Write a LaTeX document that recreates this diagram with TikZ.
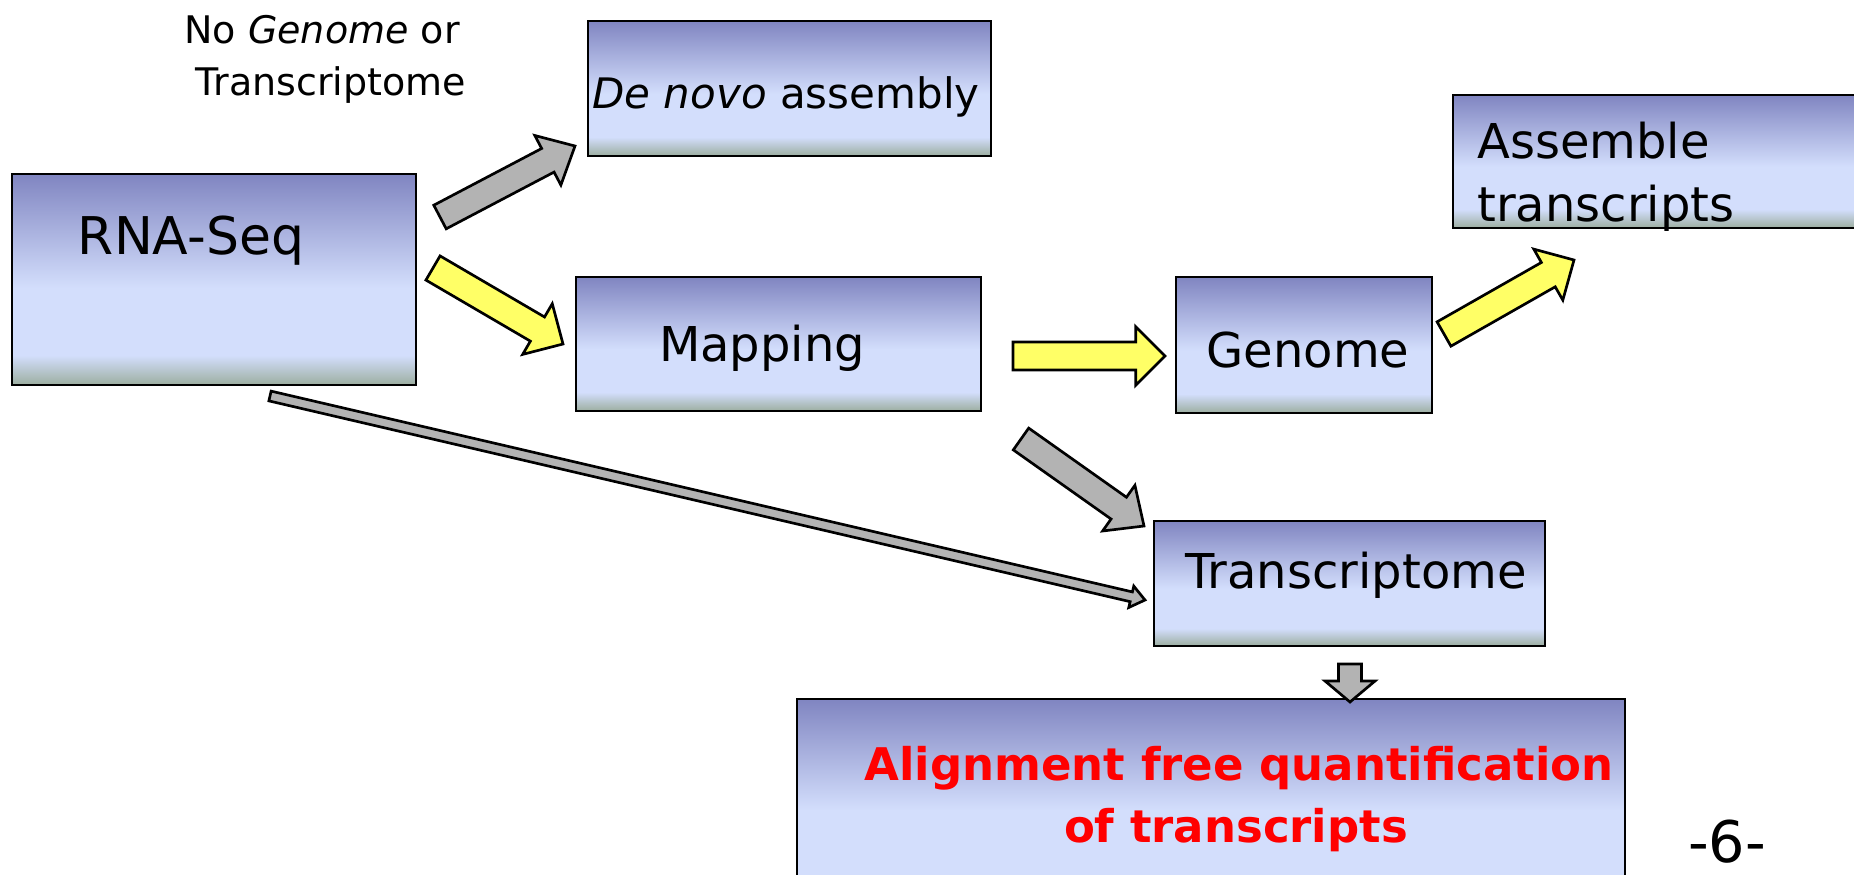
\documentclass[tikz,border=0pt]{standalone}
\usepackage{fontspec}
\setmainfont{DejaVu Sans}
\usetikzlibrary{calc}

\definecolor{boxtop}{RGB}{128,133,193}
\definecolor{boxmid}{RGB}{211,222,252}
\definecolor{boxbot}{RGB}{156,174,160}
\definecolor{arrowgray}{RGB}{179,179,179}
\definecolor{arrowyellow}{RGB}{255,255,102}

\pgfdeclareverticalshading{stageshade}{100bp}{color(0bp)=(boxbot); color(25bp)=(boxbot); color(32bp)=(boxmid); color(48bp)=(boxmid); color(75bp)=(boxtop); color(100bp)=(boxtop)}

\tikzset{every picture/.style={line width=2pt}}
\tikzset{
  stagebox/.style={draw, rectangle, inner sep=0pt, shade, shading=stageshade},
  stagetext/.style={anchor=base, inner sep=0pt, font=\fontsize{36}{40}\selectfont},
  notetext/.style={anchor=base, inner sep=0pt, font=\fontsize{28.5}{32}\selectfont},
  quanttext/.style={anchor=base, inner sep=0pt, text=red, font=\bfseries\fontsize{33.75}{40}\selectfont},
  blockarrow/.style n args={3}{to path={
    let \p1=($(\tikztotarget)-(\tikztostart)$),
        \n1={atan2(\y1,\x1)}, \n2={veclen(\x1,\y1)} in
    ($(\tikztostart)+(\n1+90:#1)$)
    -- ($(\tikztostart)+(\n1:\n2-#3)+(\n1+90:#1)$)
    -- ($(\tikztostart)+(\n1:\n2-#3)+(\n1+90:#2)$)
    -- (\tikztotarget)
    -- ($(\tikztostart)+(\n1:\n2-#3)+(\n1-90:#2)$)
    -- ($(\tikztostart)+(\n1:\n2-#3)+(\n1-90:#1)$)
    -- ($(\tikztostart)+(\n1-90:#1)$)
    -- cycle}},
  grayarrow/.style={draw, fill=arrowgray, blockarrow={10pt}{21pt}{23pt}},
  yellowarrow/.style={draw, fill=arrowyellow, blockarrow={10.5pt}{22pt}{22pt}},
}

\begin{document}
\begin{tikzpicture}[x=0.75pt,y=-0.75pt]
		\useasboundingbox (0,0) rectangle (1854,875);
		\clip (0,0) rectangle (1854,875);

		% stage boxes
		\node (denovo) [stagebox, minimum width=302.25pt, minimum height=101.25pt] at (789.5,88.5) {};
		\node (rnaseq) [stagebox, minimum width=303pt, minimum height=158.25pt] at (214,279.5) {};
		\node (mapping) [stagebox, minimum width=303.75pt, minimum height=100.5pt] at (778.5,344) {};
		\node (genome) [stagebox, minimum width=192pt, minimum height=102pt] at (1304,345) {};
		\node (assemble) [stagebox, minimum width=315.75pt, minimum height=99.75pt] at (1663.5,161.5) {};
		\node (transcriptome) [stagebox, minimum width=293.25pt, minimum height=93.75pt] at (1349.5,583.5) {};
		\node (quant) [stagebox, minimum width=621pt, minimum height=154.5pt] at (1211,802) {};

		% arrow ends
		\coordinate (dn-tail) at (440,217);
		\coordinate (dn-tip) at (575,146);
		\coordinate (mp-tail) at (433,268);
		\coordinate (mp-tip) at (563,344);
		\coordinate (tr-tail) at (270,396);
		\coordinate (tr-tip) at (1145,600);
		\coordinate (gn-tail) at (1013,356);
		\coordinate (gn-tip) at (1165,356);
		\coordinate (mt-tail) at (1021,439);
		\coordinate (mt-tip) at (1144,526);
		\coordinate (as-tail) at (1444,334);
		\coordinate (as-tip) at (1574,260);
		\coordinate (qt-tail) at (1350,664);
		\coordinate (qt-tip) at (1350,702);

		% block arrows
		\draw [grayarrow] (dn-tail) to (dn-tip);
		\draw [yellowarrow] (mp-tail) to (mp-tip);
		\draw [draw, fill=arrowgray, blockarrow={3.75pt}{8.25pt}{10.5pt}] (tr-tail) to (tr-tip);
		\draw [yellowarrow] (gn-tail) to (gn-tip);
		\draw [grayarrow] (mt-tail) to (mt-tip);
		\draw [yellowarrow] (as-tail) to (as-tip);
		\draw [draw, fill=arrowgray, blockarrow={8.6pt}{18.75pt}{15.75pt}] (qt-tail) to (qt-tip);

		% Text Node
		\node [notetext] (note-a) at (322,43) {No \textit{Genome} or};
		\node [notetext] (note-b) at (331,95) {Transcriptome};
		\node [stagetext, font=\fontsize{39}{44}\selectfont] (rnaseq-t) at (191,254) {RNA-Seq};
		\node [stagetext, font=\fontsize{31.5}{36}\selectfont] (denovo-t) at (786,108) {\textit{De novo} assembly};
		\node [stagetext] (mapping-t) at (762,361) {Mapping};
		\node [stagetext] (genome-t) at (1308,367) {Genome};
		\node [stagetext] (transcriptome-t) at (1356,588) {Transcriptome};
		\node [stagetext, anchor=base west] (assemble-a) at (1476,158) {Assemble};
		\node [stagetext, anchor=base west] (assemble-b) at (1476,221) {transcripts};
		\node [quanttext] (quant-a) at (1239,780) {Alignment free quantification};
		\node [quanttext] (quant-b) at (1236,842) {of transcripts};
		\node [anchor=base, inner sep=0pt, font=\fontsize{43}{48}\selectfont] (page) at (1727,862) {-6-};

\end{tikzpicture}
\end{document}
